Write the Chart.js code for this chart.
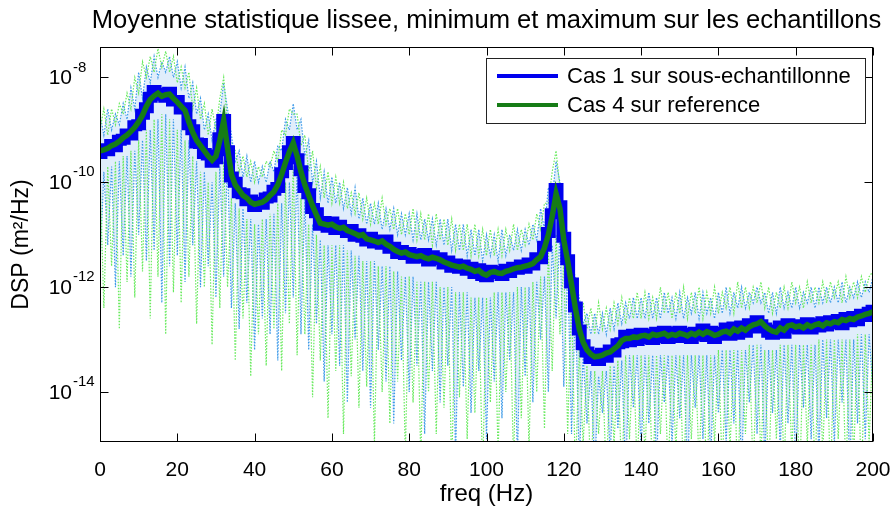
<!DOCTYPE html>
<html>
<head>
<meta charset="utf-8">
<script src="https://cdn.jsdelivr.net/npm/chart.js@4/dist/chart.umd.min.js"></script>
<style>
    html, body { margin: 0; padding: 0; background: #fff; }
    #dspChart { display: block; }
</style>
</head>
<body>
<canvas id="dspChart" width="894" height="509"></canvas>
<script>
const chartTitle = 'Moyenne statistique lissee, minimum et maximum sur les echantillons';
const xTitle = 'freq (Hz)';
const yTitle = 'DSP (m²/Hz)';
const seriesLabels = ['Cas 1 sur sous-echantillonne', 'Cas 4 sur reference'];
const yTickExponents = [-8, -10, -12, -14];

// frequency axis, one sample per Hz
const freq = Array.from({length: 201}, (_, i) => i);

// all values below are log10 of the DSP

// Cas 4, smoothed mean (green)
const meanCas4 = [
    -9.40, -9.38, -9.35, -9.30, -9.27, -9.22, -9.15, -9.10, -9.03, -8.95,
    -8.85, -8.72, -8.55, -8.42, -8.35, -8.30, -8.36, -8.33, -8.32, -8.40,
    -8.47, -8.55, -8.63, -8.85, -9.05, -9.20, -9.30, -9.40, -9.50, -9.58,
    -9.50, -9.20, -8.82, -9.35, -9.85, -10.05, -10.15, -10.25, -10.30, -10.38,
    -10.42, -10.40, -10.38, -10.33, -10.25, -10.18, -10.05, -9.85, -9.62, -9.42,
    -9.25, -9.50, -9.80, -10.05, -10.25, -10.45, -10.62, -10.78, -10.80, -10.82,
    -10.80, -10.85, -10.88, -10.86, -10.92, -10.95, -10.98, -11.02, -11.00, -11.08,
    -11.10, -11.12, -11.15, -11.12, -11.18, -11.22, -11.28, -11.32, -11.35, -11.33,
    -11.38, -11.40, -11.42, -11.40, -11.44, -11.46, -11.43, -11.45, -11.48, -11.52,
    -11.55, -11.58, -11.60, -11.62, -11.60, -11.64, -11.66, -11.70, -11.68, -11.74,
    -11.77, -11.72, -11.70, -11.73, -11.74, -11.70, -11.68, -11.65, -11.63, -11.62,
    -11.60, -11.58, -11.55, -11.48, -11.42, -11.25, -11.00, -10.65, -10.22, -10.50,
    -11.10, -11.50, -11.95, -12.40, -12.80, -13.05, -13.20, -13.28, -13.33, -13.32,
    -13.30, -13.26, -13.24, -13.18, -13.12, -13.02, -12.98, -12.98, -12.95, -12.96,
    -12.93, -12.92, -12.95, -12.90, -12.92, -12.90, -12.88, -12.93, -12.90, -12.92,
    -12.88, -12.90, -12.93, -12.88, -12.91, -12.86, -12.90, -12.85, -12.88, -12.92,
    -12.90, -12.86, -12.84, -12.88, -12.80, -12.84, -12.78, -12.82, -12.76, -12.72,
    -12.70, -12.66, -12.74, -12.80, -12.84, -12.86, -12.78, -12.82, -12.74, -12.72,
    -12.76, -12.74, -12.78, -12.72, -12.76, -12.72, -12.70, -12.74, -12.68, -12.70,
    -12.66, -12.68, -12.62, -12.64, -12.60, -12.62, -12.57, -12.55, -12.52, -12.50,
    -12.47
];

// Cas 1, smoothed mean (blue)
const meanCas1 = [
    -9.45, -9.36, -9.40, -9.28, -9.32, -9.20, -9.18, -9.08, -9.10, -8.92,
    -8.90, -8.70, -8.58, -8.38, -8.25, -8.34, -8.30, -8.38, -8.28, -8.45,
    -8.44, -8.60, -8.58, -8.90, -9.00, -9.25, -9.26, -9.45, -9.48, -9.62,
    -9.55, -9.15, -8.80, -9.40, -9.90, -10.00, -10.20, -10.22, -10.35, -10.34,
    -10.46, -10.38, -10.42, -10.30, -10.28, -10.15, -10.10, -9.82, -9.66, -9.40,
    -9.22, -9.55, -9.78, -10.10, -10.22, -10.50, -10.58, -10.82, -10.75, -10.86,
    -10.76, -10.90, -10.82, -10.90, -10.96, -10.90, -11.03, -10.98, -11.05, -11.12,
    -11.05, -11.16, -11.10, -11.18, -11.10, -11.26, -11.24, -11.36, -11.30, -11.38,
    -11.34, -11.45, -11.38, -11.44, -11.36, -11.50, -11.40, -11.48, -11.44, -11.56,
    -11.50, -11.62, -11.56, -11.64, -11.58, -11.68, -11.62, -11.74, -11.65, -11.78,
    -11.80, -11.68, -11.74, -11.70, -11.78, -11.66, -11.72, -11.62, -11.66, -11.58,
    -11.64, -11.54, -11.58, -11.44, -11.46, -11.22, -10.96, -10.60, -10.12, -10.45,
    -11.05, -11.48, -11.92, -12.38, -12.82, -13.10, -13.24, -13.36, -13.30, -13.40,
    -13.26, -13.34, -13.20, -13.24, -13.08, -13.06, -12.92, -13.04, -12.90, -13.02,
    -12.88, -12.98, -12.90, -13.00, -12.86, -12.96, -12.84, -12.98, -12.86, -12.96,
    -12.84, -12.96, -12.88, -12.98, -12.86, -12.92, -12.80, -12.94, -12.84, -12.98,
    -12.86, -12.92, -12.78, -12.92, -12.76, -12.90, -12.74, -12.86, -12.70, -12.78,
    -12.64, -12.72, -12.78, -12.86, -12.90, -12.82, -12.74, -12.88, -12.70, -12.78,
    -12.72, -12.80, -12.74, -12.68, -12.80, -12.70, -12.76, -12.66, -12.74, -12.64,
    -12.70, -12.62, -12.72, -12.58, -12.66, -12.56, -12.64, -12.52, -12.56, -12.48,
    -12.44
];

// Cas 1, maximum over the samples (dotted light blue)
const maxCas1 = [
    -8.7, -9.1, -8.6, -9.0, -8.7, -8.9, -8.5, -8.8, -8.2, -8.6,
    -7.9, -8.4, -7.8, -8.1, -7.6, -8.0, -7.7, -7.9, -7.6, -8.0,
    -7.7, -8.2, -7.8, -8.4, -8.1, -8.7, -8.4, -9.0, -8.7, -9.2,
    -8.8, -8.7, -8.1, -8.6, -9.1, -9.6, -9.4, -9.9, -9.5, -10.0,
    -9.6, -10.0, -9.7, -10.0, -9.6, -9.8, -9.3, -9.4, -8.8, -9.0,
    -8.5, -9.0, -8.8, -9.5, -9.2, -10.0, -9.6, -10.3, -9.8, -10.4,
    -9.9, -10.4, -10.0, -10.5, -10.1, -10.6, -10.1, -10.7, -10.3, -10.8,
    -10.4, -10.8, -10.4, -10.9, -10.5, -10.9, -10.5, -11.0, -10.6, -11.0,
    -10.6, -11.1, -10.6, -11.1, -10.7, -11.1, -10.7, -11.2, -10.7, -11.2,
    -10.7, -11.3, -10.8, -11.3, -10.8, -11.4, -10.9, -11.4, -10.9, -11.5,
    -11.0, -11.4, -11.0, -11.5, -10.9, -11.4, -11.0, -11.3, -10.9, -11.3,
    -10.9, -11.2, -10.8, -11.1, -10.5, -10.9, -10.1, -10.3, -9.6, -10.0,
    -10.6, -11.0, -11.6, -11.8, -12.2, -12.7, -12.5, -12.9, -12.5, -12.9,
    -12.5, -12.9, -12.4, -12.8, -12.3, -12.7, -12.3, -12.6, -12.2, -12.6,
    -12.2, -12.6, -12.1, -12.6, -12.2, -12.6, -12.1, -12.5, -12.2, -12.6,
    -12.1, -12.6, -12.2, -12.5, -12.1, -12.6, -12.1, -12.5, -12.2, -12.6,
    -12.1, -12.5, -12.0, -12.5, -12.1, -12.4, -12.0, -12.4, -12.1, -12.3,
    -12.0, -12.3, -12.1, -12.5, -12.1, -12.5, -12.0, -12.4, -12.1, -12.4,
    -12.0, -12.4, -12.1, -12.3, -12.0, -12.4, -12.0, -12.3, -12.0, -12.3,
    -12.0, -12.3, -11.9, -12.3, -12.0, -12.2, -11.9, -12.2, -11.9, -12.1,
    -11.8
];

// Cas 1, minimum over the samples (dotted light blue)
const minCas1 = [
    -11.6, -9.8, -11.2, -9.7, -12.0, -9.6, -11.4, -9.5, -11.8, -9.4,
    -11.0, -9.2, -11.5, -9.0, -11.3, -8.8, -12.3, -8.7, -11.6, -8.8,
    -11.4, -9.0, -11.9, -9.2, -11.2, -9.6, -12.0, -9.8, -11.6, -10.0,
    -12.2, -9.7, -11.8, -9.6, -12.4, -10.4, -12.8, -10.5, -12.3, -10.7,
    -13.2, -10.8, -12.6, -10.7, -12.9, -10.6, -13.4, -10.4, -12.5, -10.0,
    -12.2, -9.8, -12.9, -10.3, -13.2, -10.8, -12.7, -11.1, -13.8, -11.2,
    -12.9, -11.2, -13.5, -11.2, -14.2, -11.3, -13.0, -11.4, -13.6, -11.5,
    -14.3, -11.5, -13.2, -11.6, -13.8, -11.6, -14.6, -11.7, -13.4, -11.8,
    -14.0, -11.8, -13.5, -11.9, -14.8, -11.9, -13.6, -11.9, -14.2, -12.0,
    -13.5, -12.0, -15.2, -12.1, -13.9, -12.1, -14.4, -12.2, -13.6, -12.2,
    -14.9, -12.2, -13.8, -12.1, -14.5, -12.1, -13.4, -12.1, -15.3, -12.0,
    -13.7, -12.0, -14.2, -11.9, -13.0, -11.8, -14.0, -11.2, -12.6, -11.0,
    -13.9, -11.6, -14.8, -12.3, -15.4, -13.3, -14.6, -13.6, -15.5, -13.7,
    -14.4, -13.6, -15.2, -13.5, -14.7, -13.4, -15.6, -13.3, -14.3, -13.3,
    -15.1, -13.3, -14.6, -13.3, -15.4, -13.3, -14.2, -13.3, -15.0, -13.3,
    -14.5, -13.3, -15.6, -13.3, -14.3, -13.3, -14.9, -13.3, -15.3, -13.3,
    -14.4, -13.2, -15.0, -13.2, -14.6, -13.2, -15.5, -13.2, -14.2, -13.1,
    -14.8, -13.1, -15.3, -13.2, -14.4, -13.2, -15.1, -13.1, -14.6, -13.1,
    -15.4, -13.1, -14.3, -13.1, -14.9, -13.1, -15.2, -13.0, -14.5, -13.0,
    -15.0, -13.0, -14.2, -13.0, -15.5, -13.0, -14.6, -12.9, -14.9, -12.9,
    -14.0
];

// Cas 4, maximum over the samples (dotted light green)
const maxCas4 = [
    -9.0, -8.6, -9.1, -8.6, -8.9, -8.5, -8.7, -8.3, -8.6, -8.0,
    -8.3, -7.7, -8.0, -7.6, -7.9, -7.45, -7.8, -7.5, -7.9, -7.6,
    -8.1, -7.8, -8.2, -7.9, -8.6, -8.2, -8.8, -8.5, -9.1, -8.6,
    -9.0, -8.4, -8.0, -8.9, -9.3, -9.4, -9.8, -9.5, -9.9, -9.6,
    -10.0, -9.7, -9.9, -9.6, -9.7, -9.4, -9.6, -9.0, -9.1, -8.6,
    -8.7, -8.7, -9.3, -9.1, -9.8, -9.4, -10.1, -9.7, -10.3, -9.8,
    -10.4, -9.9, -10.4, -10.0, -10.5, -10.2, -10.6, -10.2, -10.7, -10.3,
    -10.8, -10.4, -10.8, -10.3, -10.8, -10.5, -10.9, -10.5, -11.0, -10.6,
    -11.0, -10.5, -11.1, -10.6, -11.1, -10.6, -11.2, -10.6, -11.1, -10.7,
    -11.2, -10.7, -11.3, -10.8, -11.3, -10.8, -11.4, -10.8, -11.4, -10.9,
    -11.4, -10.9, -11.4, -10.9, -11.4, -10.9, -11.3, -10.8, -11.3, -10.9,
    -11.2, -10.8, -11.1, -10.6, -10.9, -10.4, -10.4, -9.8, -9.4, -10.1,
    -10.9, -11.0, -11.7, -12.0, -12.6, -12.3, -12.8, -12.4, -12.9, -12.3,
    -12.8, -12.4, -12.8, -12.3, -12.7, -12.2, -12.7, -12.2, -12.6, -12.1,
    -12.6, -12.1, -12.6, -12.2, -12.6, -12.0, -12.5, -12.1, -12.6, -12.1,
    -12.5, -12.0, -12.6, -12.1, -12.5, -12.0, -12.6, -12.1, -12.5, -12.0,
    -12.5, -12.1, -12.4, -12.0, -12.5, -11.9, -12.4, -12.0, -12.4, -12.0,
    -12.3, -11.9, -12.4, -12.0, -12.5, -12.1, -12.4, -12.0, -12.4, -11.9,
    -12.3, -12.0, -12.4, -11.9, -12.3, -12.0, -12.3, -11.9, -12.3, -11.9,
    -12.2, -11.9, -12.3, -11.8, -12.2, -11.9, -12.2, -11.8, -12.1, -11.8,
    -11.7
];

// Cas 4, minimum over the samples (dotted light green)
const minCas4 = [
    -9.8, -12.4, -9.7, -11.6, -9.6, -12.8, -9.5, -11.9, -9.4, -12.2,
    -9.2, -11.7, -9.0, -12.6, -8.8, -11.8, -8.7, -12.9, -8.8, -12.1,
    -9.0, -12.3, -9.2, -11.8, -9.5, -12.7, -9.8, -12.0, -10.0, -13.1,
    -9.8, -12.4, -9.6, -12.0, -10.3, -13.4, -10.5, -12.6, -10.7, -13.7,
    -10.8, -12.9, -10.7, -13.5, -10.6, -12.8, -10.4, -13.6, -10.0, -12.7,
    -9.7, -13.3, -10.3, -12.9, -10.8, -14.1, -11.0, -13.4, -11.2, -14.5,
    -11.2, -13.6, -11.2, -14.8, -11.3, -13.7, -11.4, -14.3, -11.5, -13.9,
    -11.5, -15.0, -11.6, -14.0, -11.6, -14.6, -11.7, -13.8, -11.8, -15.2,
    -11.8, -14.2, -11.9, -15.3, -11.9, -14.0, -11.9, -14.8, -12.0, -14.3,
    -12.0, -15.5, -12.1, -14.1, -12.1, -14.9, -12.2, -14.4, -12.2, -15.6,
    -12.2, -14.2, -12.1, -15.2, -12.1, -14.0, -12.1, -15.4, -12.0, -14.5,
    -12.0, -15.1, -11.9, -14.0, -11.8, -14.7, -11.3, -13.6, -11.0, -12.9,
    -11.5, -14.8, -12.2, -15.6, -13.2, -15.0, -13.5, -15.7, -13.6, -14.8,
    -13.6, -15.6, -13.5, -15.0, -13.4, -15.7, -13.3, -14.9, -13.3, -15.5,
    -13.3, -15.2, -13.3, -15.8, -13.3, -14.8, -13.3, -15.6, -13.3, -15.1,
    -13.3, -15.7, -13.3, -14.9, -13.3, -15.4, -13.3, -15.8, -13.3, -15.0,
    -13.2, -15.5, -13.2, -15.1, -13.2, -15.8, -13.2, -14.8, -13.1, -15.6,
    -13.1, -15.3, -13.2, -15.7, -13.2, -14.9, -13.1, -15.5, -13.1, -15.2,
    -13.1, -15.8, -13.1, -15.0, -13.1, -15.6, -13.0, -15.2, -13.0, -15.7,
    -13.0, -14.9, -13.0, -15.6, -13.0, -15.3, -12.9, -15.8, -12.9, -15.0,
    -12.9
];

const FONT = '"Liberation Sans", Arial, Helvetica, sans-serif';
const BLUE = '#0000ee';
const GREEN = '#167c16';
const LIGHT_BLUE = '#3c9ae8';
const LIGHT_GREEN = '#68ea5e';

function toPoints(logValues) {
    return logValues.map((v, i) => ({x: freq[i], y: Math.pow(10, v)}));
}

function dottedSet(logValues, color, fill, fillColor) {
    return {
        data: toPoints(logValues),
        borderColor: color,
        backgroundColor: fillColor || 'transparent',
        fill: fill || false,
        borderWidth: 1.2,
        borderDash: [1.5, 1.5],
        pointRadius: 0,
        tension: 0,
    };
}

const plotFrame = {
    id: 'plotFrame',
    afterDraw(chart) {
        const {ctx, chartArea: area, scales} = chart;
        const left = Math.round(area.left) + 0.5;
        const right = Math.round(area.right) - 0.5;
        const top = Math.round(area.top) + 0.5;
        const bottom = Math.round(area.bottom) - 0.5;
        const tickLen = 8;

        ctx.save();
        ctx.strokeStyle = '#000';
        ctx.lineWidth = 1;
        ctx.beginPath();

        // x ticks, inward on bottom and top
        scales.x.ticks.forEach(t => {
            const px = Math.round(scales.x.getPixelForValue(t.value)) + 0.5;
            ctx.moveTo(px, bottom);
            ctx.lineTo(px, bottom - tickLen);
            ctx.moveTo(px, top);
            ctx.lineTo(px, top + tickLen);
        });

        // y ticks, inward on left and right
        yTickExponents.forEach(e => {
            const py = Math.round(scales.y.getPixelForValue(Math.pow(10, e))) + 0.5;
            ctx.moveTo(left, py);
            ctx.lineTo(left + tickLen, py);
            ctx.moveTo(right, py);
            ctx.lineTo(right - tickLen, py);
        });
        ctx.stroke();

        ctx.strokeRect(left, top, right - left, bottom - top);

        // y tick labels with exponent
        ctx.fillStyle = '#000';
        ctx.textBaseline = 'middle';
        yTickExponents.forEach(e => {
            const py = scales.y.getPixelForValue(Math.pow(10, e));
            ctx.font = `21px ${FONT}`;
            ctx.textAlign = 'right';
            ctx.fillText('10', 72, py + 1);
            ctx.font = `15px ${FONT}`;
            ctx.textAlign = 'left';
            ctx.fillText(String(e), 73, py - 10);
        });

        // title
        ctx.font = `25.6px ${FONT}`;
        ctx.textAlign = 'center';
        ctx.fillText(chartTitle, (area.left + area.right) / 2, 21);

        // legend
        const box = {x: 486, y: 58, w: 379, h: 65};
        ctx.fillStyle = '#fff';
        ctx.fillRect(box.x, box.y, box.w, box.h);
        ctx.strokeStyle = '#222';
        ctx.strokeRect(box.x + 0.5, box.y + 0.5, box.w, box.h);

        const rows = [{y: 76, color: BLUE}, {y: 105, color: GREEN}];
        rows.forEach((row, i) => {
            ctx.strokeStyle = row.color;
            ctx.lineWidth = 4;
            ctx.beginPath();
            ctx.moveTo(497, row.y);
            ctx.lineTo(558, row.y);
            ctx.stroke();
            ctx.fillStyle = '#000';
            ctx.font = `22px ${FONT}`;
            ctx.textAlign = 'left';
            ctx.fillText(seriesLabels[i], 567, row.y + 1);
        });

        ctx.restore();
    }
};

new Chart(document.querySelector('#dspChart'), {
    type: 'line',
    data: {
        datasets: [
            {
                label: seriesLabels[1],
                data: toPoints(meanCas4),
                borderColor: GREEN,
                borderWidth: 5.5,
                pointRadius: 0,
            },
            {
                label: seriesLabels[0],
                data: toPoints(meanCas1),
                borderColor: BLUE,
                borderWidth: 11,
                pointRadius: 0,
                stepped: 'middle',
            },
            dottedSet(maxCas4, LIGHT_GREEN),
            dottedSet(minCas4, LIGHT_GREEN),
            dottedSet(maxCas1, LIGHT_BLUE, '+1', 'rgba(70, 150, 230, 0.17)'),
            dottedSet(minCas1, LIGHT_BLUE),
        ]
    },
    options: {
        responsive: false,
        animation: false,
        layout: {
            padding: {top: 47, right: 21, left: 0, bottom: 0}
        },
        plugins: {
            legend: {display: false},
            title: {display: false},
            tooltip: {enabled: false},
            filler: {propagate: false}
        },
        scales: {
            x: {
                type: 'linear',
                min: 0,
                max: 200,
                grid: {display: false},
                border: {display: false},
                ticks: {
                    stepSize: 20,
                    autoSkip: false,
                    maxRotation: 0,
                    color: '#000',
                    padding: 8,
                    font: {family: FONT, size: 21}
                },
                title: {
                    display: true,
                    text: xTitle,
                    color: '#000',
                    padding: {top: 0, bottom: 0},
                    font: {family: FONT, size: 24}
                },
                afterFit(scale) {
                    scale.height = 67;
                    scale.paddingLeft = 0;
                    scale.paddingRight = 0;
                }
            },
            y: {
                type: 'logarithmic',
                min: Math.pow(10, -14.955),
                max: Math.pow(10, -7.419),
                grid: {display: false},
                border: {display: false},
                ticks: {display: false},
                title: {
                    display: true,
                    text: yTitle,
                    color: '#000',
                    padding: {top: 8, bottom: 0},
                    font: {family: FONT, size: 23}
                },
                afterFit(scale) {
                    scale.width = 100;
                    scale.paddingTop = 0;
                    scale.paddingBottom = 0;
                }
            }
        }
    },
    plugins: [plotFrame]
});
</script>
</body>
</html>
